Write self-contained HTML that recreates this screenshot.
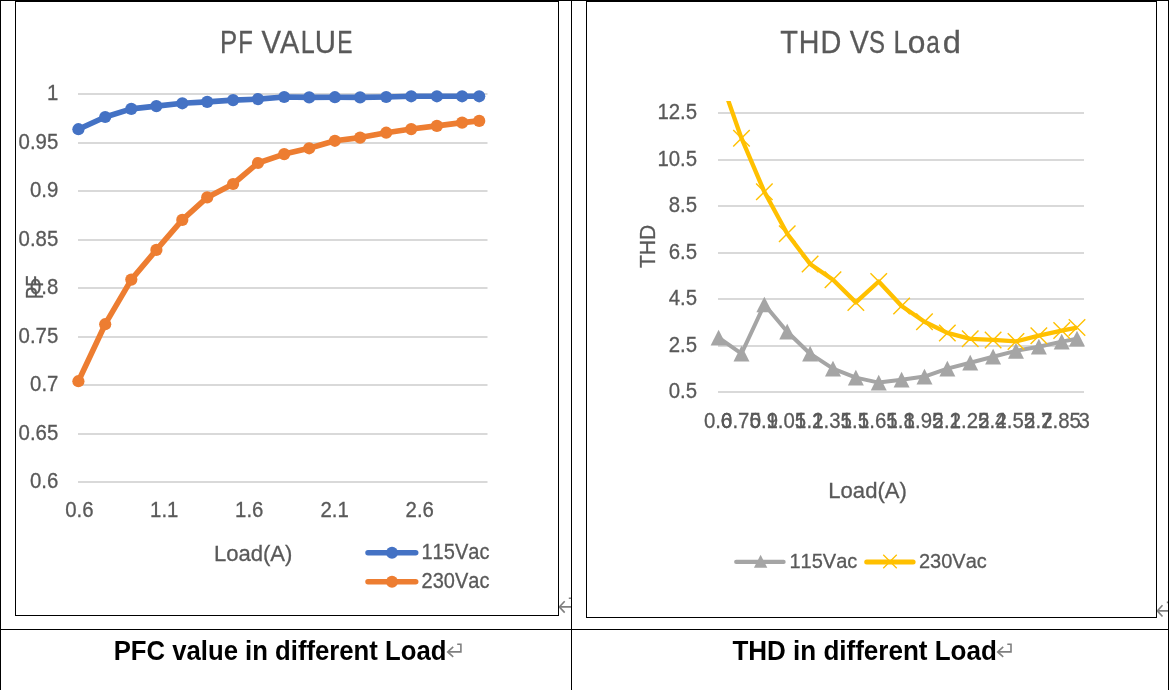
<!DOCTYPE html>
<html><head><meta charset="utf-8"><style>
html,body{margin:0;padding:0;background:#fff;}
body{width:1169px;height:690px;overflow:hidden;}
svg{display:block;will-change:transform;}
text{font-family:"Liberation Sans",sans-serif;font-kerning:none;font-feature-settings:"kern" 0;}
</style></head><body>
<svg width="1169" height="690" viewBox="0 0 1169 690">
<rect width="1169" height="690" fill="#fff"/>
<defs><clipPath id="pm1"><rect x="540" y="580" width="31" height="49"/></clipPath><clipPath id="pm2"><rect x="1140" y="580" width="28" height="49"/></clipPath></defs>
<g clip-path="url(#pm1)"><path d="M568.80,598.30H572.00V606.90H559.70" stroke="#7f7f7f" stroke-width="1.6" fill="none"/><path d="M564.70,601.20L559.30,606.90L564.70,612.60" stroke="#7f7f7f" stroke-width="1.6" fill="none"/></g>
<g clip-path="url(#pm2)"><path d="M1166.80,602.40H1169.00V610.90H1157.70" stroke="#7f7f7f" stroke-width="1.6" fill="none"/><path d="M1162.50,605.30L1157.30,610.90L1162.50,616.50" stroke="#7f7f7f" stroke-width="1.6" fill="none"/></g>
<rect x="0" y="0" width="1169" height="1" fill="#000"/>
<rect x="0" y="0" width="1" height="690" fill="#000"/>
<rect x="1168" y="0" width="1" height="690" fill="#000"/>
<rect x="571" y="0" width="1" height="690" fill="#000"/>
<rect x="0" y="629" width="1169" height="1" fill="#000"/>
<rect x="15.5" y="1.5" width="543" height="614" fill="none" stroke="#000" stroke-width="1"/>
<rect x="586.5" y="1.5" width="570" height="616" fill="none" stroke="#000" stroke-width="1"/>
<text x="219.99" y="52.80" font-size="31.54" textLength="17.17" lengthAdjust="spacingAndGlyphs" fill="#595959" stroke="#595959" stroke-width="0.3">P</text><text x="238.14" y="52.80" font-size="31.54" textLength="14.62" lengthAdjust="spacingAndGlyphs" fill="#595959" stroke="#595959" stroke-width="0.3">F</text><text x="261.57" y="52.80" font-size="31.54" textLength="19.56" lengthAdjust="spacingAndGlyphs" fill="#595959" stroke="#595959" stroke-width="0.3">V</text><text x="280.04" y="52.80" font-size="31.54" textLength="19.31" lengthAdjust="spacingAndGlyphs" fill="#595959" stroke="#595959" stroke-width="0.3">A</text><text x="300.73" y="52.80" font-size="31.54" textLength="14.00" lengthAdjust="spacingAndGlyphs" fill="#595959" stroke="#595959" stroke-width="0.3">L</text><text x="314.63" y="52.80" font-size="31.54" textLength="21.24" lengthAdjust="spacingAndGlyphs" fill="#595959" stroke="#595959" stroke-width="0.3">U</text><text x="337.22" y="52.80" font-size="31.54" textLength="15.26" lengthAdjust="spacingAndGlyphs" fill="#595959" stroke="#595959" stroke-width="0.3">E</text>
<rect x="78.0" y="93.00" width="409.50" height="2" fill="#d9d9d9"/>
<rect x="78.0" y="142.00" width="409.50" height="2" fill="#d9d9d9"/>
<rect x="78.0" y="190.00" width="409.50" height="2" fill="#d9d9d9"/>
<rect x="78.0" y="239.00" width="409.50" height="2" fill="#d9d9d9"/>
<rect x="78.0" y="287.00" width="409.50" height="2" fill="#d9d9d9"/>
<rect x="78.0" y="336.00" width="409.50" height="2" fill="#d9d9d9"/>
<rect x="78.0" y="384.00" width="409.50" height="2" fill="#d9d9d9"/>
<rect x="78.0" y="433.00" width="409.50" height="2" fill="#d9d9d9"/>
<rect x="78.0" y="481.00" width="409.50" height="2" fill="#d9d9d9"/>
<text x="47.06" y="99.80" font-size="21.50" textLength="11.33" lengthAdjust="spacingAndGlyphs" fill="#595959" stroke="#595959" stroke-width="0.3">1</text>
<text x="18.60" y="148.80" font-size="21.50" textLength="39.65" lengthAdjust="spacingAndGlyphs" fill="#595959" stroke="#595959" stroke-width="0.3">0.95</text>
<text x="30.04" y="196.80" font-size="21.50" textLength="28.32" lengthAdjust="spacingAndGlyphs" fill="#595959" stroke="#595959" stroke-width="0.3">0.9</text>
<text x="18.60" y="245.80" font-size="21.50" textLength="39.65" lengthAdjust="spacingAndGlyphs" fill="#595959" stroke="#595959" stroke-width="0.3">0.85</text>
<text x="29.96" y="293.80" font-size="21.50" textLength="28.32" lengthAdjust="spacingAndGlyphs" fill="#595959" stroke="#595959" stroke-width="0.3">0.8</text>
<text x="18.60" y="342.80" font-size="21.50" textLength="39.65" lengthAdjust="spacingAndGlyphs" fill="#595959" stroke="#595959" stroke-width="0.3">0.75</text>
<text x="30.10" y="390.80" font-size="21.50" textLength="28.32" lengthAdjust="spacingAndGlyphs" fill="#595959" stroke="#595959" stroke-width="0.3">0.7</text>
<text x="18.60" y="439.80" font-size="21.50" textLength="39.65" lengthAdjust="spacingAndGlyphs" fill="#595959" stroke="#595959" stroke-width="0.3">0.65</text>
<text x="29.97" y="487.80" font-size="21.50" textLength="28.32" lengthAdjust="spacingAndGlyphs" fill="#595959" stroke="#595959" stroke-width="0.3">0.6</text>
<text x="65.29" y="516.50" font-size="21.50" textLength="28.32" lengthAdjust="spacingAndGlyphs" fill="#595959" stroke="#595959" stroke-width="0.3">0.6</text>
<text x="150.06" y="516.50" font-size="21.50" textLength="28.32" lengthAdjust="spacingAndGlyphs" fill="#595959" stroke="#595959" stroke-width="0.3">1.1</text>
<text x="235.11" y="516.50" font-size="21.50" textLength="28.32" lengthAdjust="spacingAndGlyphs" fill="#595959" stroke="#595959" stroke-width="0.3">1.6</text>
<text x="320.52" y="516.50" font-size="21.50" textLength="28.32" lengthAdjust="spacingAndGlyphs" fill="#595959" stroke="#595959" stroke-width="0.3">2.1</text>
<text x="405.57" y="516.50" font-size="21.50" textLength="28.32" lengthAdjust="spacingAndGlyphs" fill="#595959" stroke="#595959" stroke-width="0.3">2.6</text>
<g transform="translate(42.60,297.60) rotate(-90)"><text x="-1.51" y="0.00" font-size="23.26" textLength="23.55" lengthAdjust="spacingAndGlyphs" fill="#595959" stroke="#595959" stroke-width="0.3">PF</text></g>
<text x="213.89" y="560.80" font-size="22.82" textLength="78.48" lengthAdjust="spacingAndGlyphs" fill="#595959" stroke="#595959" stroke-width="0.3">Load(A)</text>
<text x="421.47" y="559.00" font-size="21.80" textLength="67.95" lengthAdjust="spacingAndGlyphs" fill="#595959" stroke="#595959" stroke-width="0.3">115Vac</text>
<text x="421.59" y="587.70" font-size="21.80" textLength="67.83" lengthAdjust="spacingAndGlyphs" fill="#595959" stroke="#595959" stroke-width="0.3">230Vac</text>
<polyline points="78.40,381.20 105.20,324.20 131.30,279.60 156.40,249.90 182.30,219.90 207.20,197.40 233.10,184.00 258.00,163.00 284.20,154.10 309.20,148.30 334.90,140.80 360.10,137.60 386.20,132.70 411.20,129.10 436.90,125.90 462.10,122.60 479.20,120.90" fill="none" stroke="#ed7d31" stroke-width="5.6" stroke-linejoin="round" stroke-linecap="round"/>
<circle cx="78.40" cy="381.20" r="6.1" fill="#ed7d31"/>
<circle cx="105.20" cy="324.20" r="6.1" fill="#ed7d31"/>
<circle cx="131.30" cy="279.60" r="6.1" fill="#ed7d31"/>
<circle cx="156.40" cy="249.90" r="6.1" fill="#ed7d31"/>
<circle cx="182.30" cy="219.90" r="6.1" fill="#ed7d31"/>
<circle cx="207.20" cy="197.40" r="6.1" fill="#ed7d31"/>
<circle cx="233.10" cy="184.00" r="6.1" fill="#ed7d31"/>
<circle cx="258.00" cy="163.00" r="6.1" fill="#ed7d31"/>
<circle cx="284.20" cy="154.10" r="6.1" fill="#ed7d31"/>
<circle cx="309.20" cy="148.30" r="6.1" fill="#ed7d31"/>
<circle cx="334.90" cy="140.80" r="6.1" fill="#ed7d31"/>
<circle cx="360.10" cy="137.60" r="6.1" fill="#ed7d31"/>
<circle cx="386.20" cy="132.70" r="6.1" fill="#ed7d31"/>
<circle cx="411.20" cy="129.10" r="6.1" fill="#ed7d31"/>
<circle cx="436.90" cy="125.90" r="6.1" fill="#ed7d31"/>
<circle cx="462.10" cy="122.60" r="6.1" fill="#ed7d31"/>
<circle cx="479.20" cy="120.90" r="6.1" fill="#ed7d31"/>
<polyline points="78.40,129.20 105.20,117.00 131.30,108.90 156.40,106.10 182.30,103.30 207.20,101.90 233.10,100.10 258.00,99.10 284.20,97.00 309.20,97.40 334.90,97.20 360.10,97.40 386.20,97.00 411.20,96.30 436.90,96.30 462.10,96.30 479.20,96.30" fill="none" stroke="#4472c4" stroke-width="5.6" stroke-linejoin="round" stroke-linecap="round"/>
<circle cx="78.40" cy="129.20" r="6.1" fill="#4472c4"/>
<circle cx="105.20" cy="117.00" r="6.1" fill="#4472c4"/>
<circle cx="131.30" cy="108.90" r="6.1" fill="#4472c4"/>
<circle cx="156.40" cy="106.10" r="6.1" fill="#4472c4"/>
<circle cx="182.30" cy="103.30" r="6.1" fill="#4472c4"/>
<circle cx="207.20" cy="101.90" r="6.1" fill="#4472c4"/>
<circle cx="233.10" cy="100.10" r="6.1" fill="#4472c4"/>
<circle cx="258.00" cy="99.10" r="6.1" fill="#4472c4"/>
<circle cx="284.20" cy="97.00" r="6.1" fill="#4472c4"/>
<circle cx="309.20" cy="97.40" r="6.1" fill="#4472c4"/>
<circle cx="334.90" cy="97.20" r="6.1" fill="#4472c4"/>
<circle cx="360.10" cy="97.40" r="6.1" fill="#4472c4"/>
<circle cx="386.20" cy="97.00" r="6.1" fill="#4472c4"/>
<circle cx="411.20" cy="96.30" r="6.1" fill="#4472c4"/>
<circle cx="436.90" cy="96.30" r="6.1" fill="#4472c4"/>
<circle cx="462.10" cy="96.30" r="6.1" fill="#4472c4"/>
<circle cx="479.20" cy="96.30" r="6.1" fill="#4472c4"/>
<line x1="368" y1="552.7" x2="415.7" y2="552.7" stroke="#4472c4" stroke-width="5.5" stroke-linecap="round"/>
<circle cx="392" cy="552.7" r="6" fill="#4472c4"/>
<line x1="368" y1="581.7" x2="415.7" y2="581.7" stroke="#ed7d31" stroke-width="5.5" stroke-linecap="round"/>
<circle cx="392" cy="581.7" r="6" fill="#ed7d31"/>
<text x="780.35" y="52.60" font-size="31.25" textLength="17.72" lengthAdjust="spacingAndGlyphs" fill="#595959" stroke="#595959" stroke-width="0.3">T</text><text x="798.75" y="52.60" font-size="31.25" textLength="20.69" lengthAdjust="spacingAndGlyphs" fill="#595959" stroke="#595959" stroke-width="0.3">H</text><text x="820.53" y="52.60" font-size="31.25" textLength="20.85" lengthAdjust="spacingAndGlyphs" fill="#595959" stroke="#595959" stroke-width="0.3">D</text><text x="849.77" y="52.60" font-size="31.25" textLength="19.05" lengthAdjust="spacingAndGlyphs" fill="#595959" stroke="#595959" stroke-width="0.3">V</text><text x="868.91" y="52.60" font-size="31.25" textLength="15.99" lengthAdjust="spacingAndGlyphs" fill="#595959" stroke="#595959" stroke-width="0.3">S</text><text x="893.50" y="52.60" font-size="31.25" textLength="14.25" lengthAdjust="spacingAndGlyphs" fill="#595959" stroke="#595959" stroke-width="0.3">L</text><text x="907.67" y="52.60" font-size="31.25" textLength="17.67" lengthAdjust="spacingAndGlyphs" fill="#595959" stroke="#595959" stroke-width="0.3">o</text><text x="926.37" y="52.60" font-size="31.25" textLength="13.53" lengthAdjust="spacingAndGlyphs" fill="#595959" stroke="#595959" stroke-width="0.3">a</text><text x="942.73" y="52.60" font-size="31.25" textLength="18.18" lengthAdjust="spacingAndGlyphs" fill="#595959" stroke="#595959" stroke-width="0.3">d</text>
<rect x="718.0" y="112.00" width="366.00" height="2" fill="#d9d9d9"/>
<rect x="718.0" y="159.00" width="366.00" height="2" fill="#d9d9d9"/>
<rect x="718.0" y="205.00" width="366.00" height="2" fill="#d9d9d9"/>
<rect x="718.0" y="252.00" width="366.00" height="2" fill="#d9d9d9"/>
<rect x="718.0" y="298.00" width="366.00" height="2" fill="#d9d9d9"/>
<rect x="718.0" y="345.00" width="366.00" height="2" fill="#d9d9d9"/>
<rect x="718.0" y="391.00" width="366.00" height="2" fill="#d9d9d9"/>
<text x="657.40" y="119.00" font-size="21.50" textLength="39.65" lengthAdjust="spacingAndGlyphs" fill="#595959" stroke="#595959" stroke-width="0.3">12.5</text>
<text x="657.40" y="166.00" font-size="21.50" textLength="39.65" lengthAdjust="spacingAndGlyphs" fill="#595959" stroke="#595959" stroke-width="0.3">10.5</text>
<text x="668.73" y="212.00" font-size="21.50" textLength="28.32" lengthAdjust="spacingAndGlyphs" fill="#595959" stroke="#595959" stroke-width="0.3">8.5</text>
<text x="668.73" y="259.00" font-size="21.50" textLength="28.32" lengthAdjust="spacingAndGlyphs" fill="#595959" stroke="#595959" stroke-width="0.3">6.5</text>
<text x="668.73" y="305.00" font-size="21.50" textLength="28.32" lengthAdjust="spacingAndGlyphs" fill="#595959" stroke="#595959" stroke-width="0.3">4.5</text>
<text x="668.73" y="352.00" font-size="21.50" textLength="28.32" lengthAdjust="spacingAndGlyphs" fill="#595959" stroke="#595959" stroke-width="0.3">2.5</text>
<text x="668.73" y="398.00" font-size="21.50" textLength="28.32" lengthAdjust="spacingAndGlyphs" fill="#595959" stroke="#595959" stroke-width="0.3">0.5</text>
<text x="703.89" y="427.60" font-size="21.50" textLength="28.32" lengthAdjust="spacingAndGlyphs" fill="#595959" stroke="#595959" stroke-width="0.3">0.6</text>
<text x="721.08" y="427.60" font-size="21.50" textLength="39.65" lengthAdjust="spacingAndGlyphs" fill="#595959" stroke="#595959" stroke-width="0.3">0.75</text>
<text x="749.67" y="427.60" font-size="21.50" textLength="28.32" lengthAdjust="spacingAndGlyphs" fill="#595959" stroke="#595959" stroke-width="0.3">0.9</text>
<text x="766.45" y="427.60" font-size="21.50" textLength="39.65" lengthAdjust="spacingAndGlyphs" fill="#595959" stroke="#595959" stroke-width="0.3">1.05</text>
<text x="795.08" y="427.60" font-size="21.50" textLength="28.32" lengthAdjust="spacingAndGlyphs" fill="#595959" stroke="#595959" stroke-width="0.3">1.2</text>
<text x="812.20" y="427.60" font-size="21.50" textLength="39.65" lengthAdjust="spacingAndGlyphs" fill="#595959" stroke="#595959" stroke-width="0.3">1.35</text>
<text x="840.74" y="427.60" font-size="21.50" textLength="28.32" lengthAdjust="spacingAndGlyphs" fill="#595959" stroke="#595959" stroke-width="0.3">1.5</text>
<text x="857.95" y="427.60" font-size="21.50" textLength="39.65" lengthAdjust="spacingAndGlyphs" fill="#595959" stroke="#595959" stroke-width="0.3">1.65</text>
<text x="886.51" y="427.60" font-size="21.50" textLength="28.32" lengthAdjust="spacingAndGlyphs" fill="#595959" stroke="#595959" stroke-width="0.3">1.8</text>
<text x="903.70" y="427.60" font-size="21.50" textLength="39.65" lengthAdjust="spacingAndGlyphs" fill="#595959" stroke="#595959" stroke-width="0.3">1.95</text>
<text x="932.57" y="427.60" font-size="21.50" textLength="28.32" lengthAdjust="spacingAndGlyphs" fill="#595959" stroke="#595959" stroke-width="0.3">2.1</text>
<text x="949.71" y="427.60" font-size="21.50" textLength="39.65" lengthAdjust="spacingAndGlyphs" fill="#595959" stroke="#595959" stroke-width="0.3">2.25</text>
<text x="978.13" y="427.60" font-size="21.50" textLength="28.32" lengthAdjust="spacingAndGlyphs" fill="#595959" stroke="#595959" stroke-width="0.3">2.4</text>
<text x="995.46" y="427.60" font-size="21.50" textLength="39.65" lengthAdjust="spacingAndGlyphs" fill="#595959" stroke="#595959" stroke-width="0.3">2.55</text>
<text x="1024.09" y="427.60" font-size="21.50" textLength="28.32" lengthAdjust="spacingAndGlyphs" fill="#595959" stroke="#595959" stroke-width="0.3">2.7</text>
<text x="1041.21" y="427.60" font-size="21.50" textLength="39.65" lengthAdjust="spacingAndGlyphs" fill="#595959" stroke="#595959" stroke-width="0.3">2.85</text>
<text x="1078.39" y="427.60" font-size="21.50" textLength="11.33" lengthAdjust="spacingAndGlyphs" fill="#595959" stroke="#595959" stroke-width="0.3">3</text>
<g transform="translate(654.60,267.60) rotate(-90)"><text x="-0.47" y="0.00" font-size="22.75" textLength="43.28" lengthAdjust="spacingAndGlyphs" fill="#595959" stroke="#595959" stroke-width="0.3">THD</text></g>
<text x="828.29" y="497.80" font-size="22.82" textLength="78.58" lengthAdjust="spacingAndGlyphs" fill="#595959" stroke="#595959" stroke-width="0.3">Load(A)</text>
<text x="789.48" y="567.70" font-size="21.08" textLength="67.85" lengthAdjust="spacingAndGlyphs" fill="#595959" stroke="#595959" stroke-width="0.3">115Vac</text>
<text x="918.99" y="567.70" font-size="21.08" textLength="67.83" lengthAdjust="spacingAndGlyphs" fill="#595959" stroke="#595959" stroke-width="0.3">230Vac</text>
<defs><clipPath id="pa2"><rect x="586" y="101.1" width="570" height="400"/></clipPath></defs>
<polyline points="718.60,337.70 741.48,353.70 764.35,304.50 787.23,331.70 810.10,353.70 832.98,368.70 855.85,377.60 878.73,382.60 901.60,379.70 924.48,376.60 947.35,368.60 970.23,362.70 993.10,356.70 1015.98,350.90 1038.85,346.70 1061.72,341.60 1077.00,338.70" fill="none" stroke="#a5a5a5" stroke-width="4.0" stroke-linejoin="round" stroke-linecap="round"/>
<polygon points="718.60,329.85 726.60,345.55 710.60,345.55" fill="#a5a5a5"/>
<polygon points="741.48,345.85 749.48,361.55 733.48,361.55" fill="#a5a5a5"/>
<polygon points="764.35,296.65 772.35,312.35 756.35,312.35" fill="#a5a5a5"/>
<polygon points="787.23,323.85 795.23,339.55 779.23,339.55" fill="#a5a5a5"/>
<polygon points="810.10,345.85 818.10,361.55 802.10,361.55" fill="#a5a5a5"/>
<polygon points="832.98,360.85 840.98,376.55 824.98,376.55" fill="#a5a5a5"/>
<polygon points="855.85,369.75 863.85,385.45 847.85,385.45" fill="#a5a5a5"/>
<polygon points="878.73,374.75 886.73,390.45 870.73,390.45" fill="#a5a5a5"/>
<polygon points="901.60,371.85 909.60,387.55 893.60,387.55" fill="#a5a5a5"/>
<polygon points="924.48,368.75 932.48,384.45 916.48,384.45" fill="#a5a5a5"/>
<polygon points="947.35,360.75 955.35,376.45 939.35,376.45" fill="#a5a5a5"/>
<polygon points="970.23,354.85 978.23,370.55 962.23,370.55" fill="#a5a5a5"/>
<polygon points="993.10,348.85 1001.10,364.55 985.10,364.55" fill="#a5a5a5"/>
<polygon points="1015.98,343.05 1023.98,358.75 1007.98,358.75" fill="#a5a5a5"/>
<polygon points="1038.85,338.85 1046.85,354.55 1030.85,354.55" fill="#a5a5a5"/>
<polygon points="1061.72,333.75 1069.72,349.45 1053.72,349.45" fill="#a5a5a5"/>
<polygon points="1077.00,330.85 1085.00,346.55 1069.00,346.55" fill="#a5a5a5"/>
<g clip-path="url(#pa2)"><polyline points="718.60,73.10 741.48,138.20 764.35,191.80 787.23,233.80 810.10,263.90 832.98,279.80 855.85,302.40 878.73,281.50 901.60,306.00 924.48,321.80 947.35,332.90 970.23,338.80 993.10,339.90 1015.98,341.40 1038.85,335.70 1061.72,330.60 1077.00,327.60" fill="none" stroke="#ffc000" stroke-width="4.3" stroke-linejoin="round" stroke-linecap="butt"/></g>
<path d="M733.23,129.95L749.73,146.45M749.73,129.95L733.23,146.45" stroke="#ffc000" stroke-width="1.4" fill="none"/>
<path d="M756.10,183.55L772.60,200.05M772.60,183.55L756.10,200.05" stroke="#ffc000" stroke-width="1.4" fill="none"/>
<path d="M778.98,225.55L795.48,242.05M795.48,225.55L778.98,242.05" stroke="#ffc000" stroke-width="1.4" fill="none"/>
<path d="M801.85,255.65L818.35,272.15M818.35,255.65L801.85,272.15" stroke="#ffc000" stroke-width="1.4" fill="none"/>
<path d="M824.73,271.55L841.23,288.05M841.23,271.55L824.73,288.05" stroke="#ffc000" stroke-width="1.4" fill="none"/>
<path d="M847.60,294.15L864.10,310.65M864.10,294.15L847.60,310.65" stroke="#ffc000" stroke-width="1.4" fill="none"/>
<path d="M870.48,273.25L886.98,289.75M886.98,273.25L870.48,289.75" stroke="#ffc000" stroke-width="1.4" fill="none"/>
<path d="M893.35,297.75L909.85,314.25M909.85,297.75L893.35,314.25" stroke="#ffc000" stroke-width="1.4" fill="none"/>
<path d="M916.23,313.55L932.73,330.05M932.73,313.55L916.23,330.05" stroke="#ffc000" stroke-width="1.4" fill="none"/>
<path d="M939.10,324.65L955.60,341.15M955.60,324.65L939.10,341.15" stroke="#ffc000" stroke-width="1.4" fill="none"/>
<path d="M961.98,330.55L978.48,347.05M978.48,330.55L961.98,347.05" stroke="#ffc000" stroke-width="1.4" fill="none"/>
<path d="M984.85,331.65L1001.35,348.15M1001.35,331.65L984.85,348.15" stroke="#ffc000" stroke-width="1.4" fill="none"/>
<path d="M1007.73,333.15L1024.22,349.65M1024.22,333.15L1007.73,349.65" stroke="#ffc000" stroke-width="1.4" fill="none"/>
<path d="M1030.60,327.45L1047.10,343.95M1047.10,327.45L1030.60,343.95" stroke="#ffc000" stroke-width="1.4" fill="none"/>
<path d="M1053.47,322.35L1069.97,338.85M1069.97,322.35L1053.47,338.85" stroke="#ffc000" stroke-width="1.4" fill="none"/>
<path d="M1068.75,319.35L1085.25,335.85M1085.25,319.35L1068.75,335.85" stroke="#ffc000" stroke-width="1.4" fill="none"/>
<line x1="736.2" y1="561.9" x2="783.6" y2="561.9" stroke="#a5a5a5" stroke-width="4.2" stroke-linecap="round"/>
<polygon points="760.6,554.8 767.3,567.8 753.9,567.8" fill="#a5a5a5"/>
<line x1="866.7" y1="561.9" x2="913.1" y2="561.9" stroke="#ffc000" stroke-width="5" stroke-linecap="round"/>
<path d="M883.25,554.75L896.75,568.25M896.75,554.75L883.25,568.25" stroke="#ffc000" stroke-width="1.3" fill="none"/>
<text x="113.68" y="659.90" font-size="27.62" textLength="332.71" lengthAdjust="spacingAndGlyphs" fill="#000" font-weight="bold">PFC value in different Load</text>
<text x="732.41" y="659.90" font-size="27.62" textLength="264.41" lengthAdjust="spacingAndGlyphs" fill="#000" font-weight="bold">THD in different Load</text>
<g><path d="M457.20,644.30H460.90V651.90H448.10" stroke="#7f7f7f" stroke-width="1.6" fill="none"/><path d="M453.20,646.90L447.70,651.90L453.20,656.90" stroke="#7f7f7f" stroke-width="1.6" fill="none"/></g>
<g><path d="M1007.30,644.30H1011.00V651.90H998.10" stroke="#7f7f7f" stroke-width="1.6" fill="none"/><path d="M1003.20,646.90L997.70,651.90L1003.20,656.90" stroke="#7f7f7f" stroke-width="1.6" fill="none"/></g>
</svg>
</body></html>
